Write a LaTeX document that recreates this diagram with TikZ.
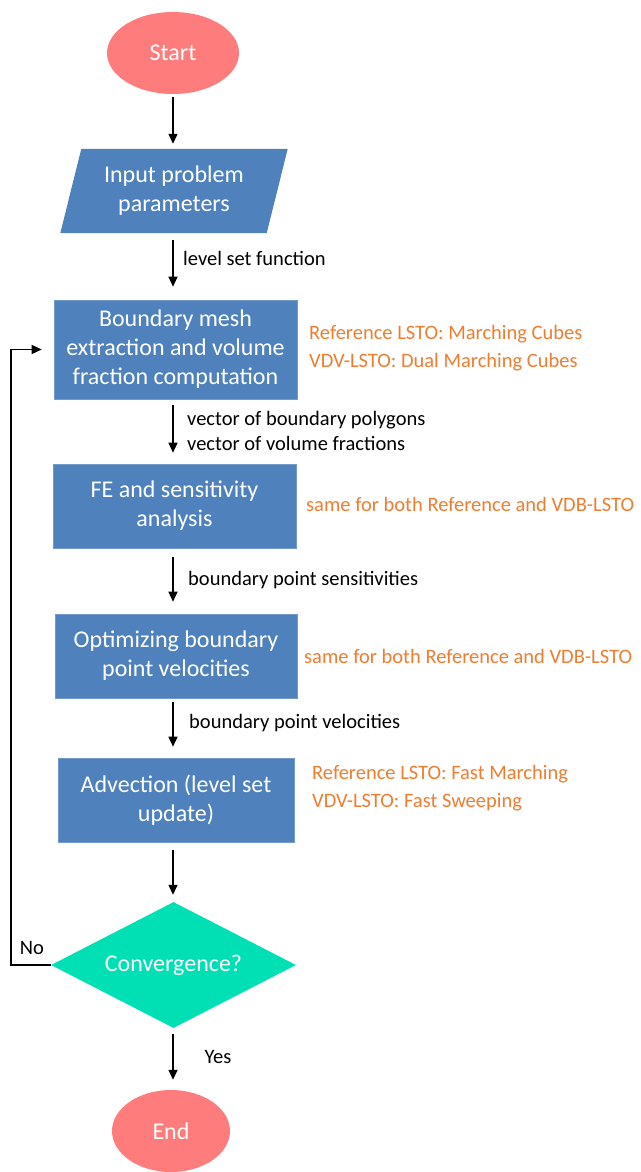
\documentclass[tikz,border=0pt]{standalone}
\usepackage{fontspec}
\setmainfont{Carlito}
\usetikzlibrary{arrows.meta,shapes.geometric,backgrounds,calc}

\definecolor{boxblue}{HTML}{4F81BD}
\definecolor{termred}{HTML}{FF7C7C}
\definecolor{decgreen}{HTML}{00E0B4}
\definecolor{noteorange}{HTML}{ED7D31}

\newcommand\flowboxfont{\fontsize{24}{29}\selectfont}
\newcommand\flowlblfont{\fontsize{20.5}{25}\selectfont}
\newcommand\flownotefont{\fontsize{20.5}{28.5}\selectfont}

\begin{document}
\begin{tikzpicture}[x=1pt,y=-1pt,
  every node/.style={inner sep=0pt},
  proc/.style={rectangle, fill=boxblue, draw=boxblue!80!white, line width=0.6pt,
    text=white, align=center, font=\flowboxfont},
  term/.style={ellipse, fill=termred, text=white, font=\flowboxfont},
  decision/.style={diamond, aspect=2, fill=decgreen, text=white, font=\flowboxfont},
  flow/.style={line width=1.4pt, -{Triangle[length=10pt,width=9pt]}},
  lbl/.style={font=\flowlblfont, anchor=west, align=left},
  note/.style={font=\flownotefont, text=noteorange, anchor=west, align=left}]

\useasboundingbox (0,0) rectangle (640,1172);

% vertical axis of the main flow and the x of the return loop
\coordinate (axis) at (173,0);
\coordinate (lp) at (11,0);

% terminals, input, process steps and the test
\node[term, minimum width=132pt, minimum height=82pt] (start) at (173,53) {Start};
\node[rectangle, minimum width=206pt, minimum height=84pt, text=white, align=center,
  font=\flowboxfont] (in) at (174,191) {Input problem\\parameters};
\begin{scope}[on background layer]
  \fill[boxblue] ($(in.north west)+(10.5,0)$) -- ($(in.north east)+(10.5,0)$)
    -- ($(in.south east)+(-10.5,0)$) -- ($(in.south west)+(-10.5,0)$) -- cycle;
\end{scope}
\node[proc, minimum width=243pt, minimum height=99pt] (b1) at (175.5,349.5)
  {Boundary mesh\\extraction and volume\\fraction computation};
\node[proc, minimum width=243pt, minimum height=84pt] (b2) at (174.5,506)
  {FE and sensitivity\\analysis};
\node[proc, minimum width=242pt, minimum height=84pt] (b3) at (176,656)
  {Optimizing boundary\\point velocities};
\node[proc, minimum width=236pt, minimum height=84pt] (b4) at (176,800)
  {Advection (level set\\update)};
\node[decision, minimum width=245pt, minimum height=126pt] (dm) at (173.5,965)
  {Convergence?};
\node[term, minimum width=118pt, minimum height=82pt] (end) at (171,1131) {End};

% main flow
\draw[flow, shorten <=3pt, shorten >=5pt] (start.south -| axis) -- (in.north -| axis);
\draw[flow, shorten <=7pt, shorten >=13pt] (in.south -| axis) -- (b1.north -| axis);
\draw[flow, shorten <=6pt, shorten >=11pt] (b1.south -| axis) -- (b2.north -| axis);
\draw[flow, shorten <=9pt, shorten >=12pt] (b2.south -| axis) -- (b3.north -| axis);
\draw[flow, shorten <=4pt, shorten >=11pt] (b3.south -| axis) -- (b4.north -| axis);
\draw[flow, shorten <=8pt, shorten >=7pt] (b4.south -| axis) -- (dm.north -| axis);
\draw[flow, shorten <=6pt, shorten >=10pt] (dm.south -| axis) -- (end.north -| axis);

% return loop when not converged
\draw[flow, shorten >=12pt] (dm.west) -- (dm.west -| lp) -- (lp |- b1.west) -- (b1.west);

% connector labels
\node[lbl] (l1) at (183,258) {level set function};
\node[lbl] (l2) at (187,431) {vector of boundary polygons\\vector of volume fractions};
\node[lbl] (l3) at (188,580) {boundary point sensitivities};
\node[lbl] (l4) at (189,723) {boundary point velocities};
\node[font=\flowlblfont] (no) at (32,948) {No};
\node[font=\flowlblfont] (yes) at (218,1057) {Yes};

% method notes
\node[note] (n1) at (309,348) {Reference LSTO: Marching Cubes\\VDV-LSTO: Dual Marching Cubes};
\node[note] (n2) at (306,504) {same for both Reference and VDB-LSTO};
\node[note] (n3) at (304,656) {same for both Reference and VDB-LSTO};
\node[note] (n4) at (312,788) {Reference LSTO: Fast Marching\\VDV-LSTO: Fast Sweeping};
\end{tikzpicture}
\end{document}
